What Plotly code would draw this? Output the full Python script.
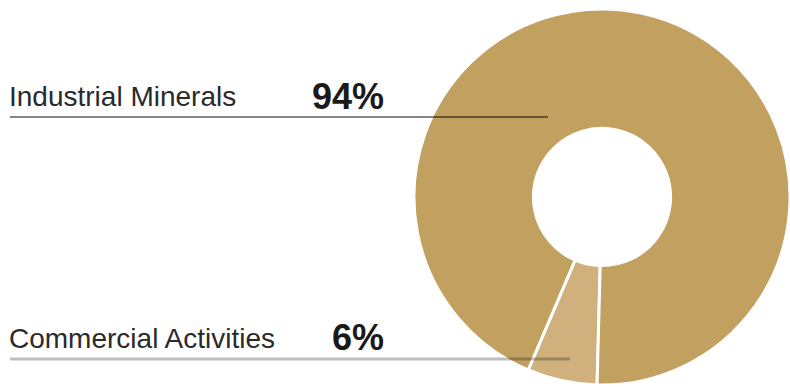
import plotly.graph_objects as go

W, H = 790, 387

# Segment data
segments = ["Commercial Activities", "Industrial Minerals"]
shares = [6, 94]
segment_colors = ["#D0B07C", "#C1A060"]

# Label texts
label_names = ["Industrial Minerals", "Commercial Activities"]
label_values = ["94%", "6%"]

FONT = "Liberation Sans"


def px_x(x):
    return min(max(x / W, 0.0), 1.0)


def px_y(y):
    return min(max((H - y) / H, 0.0), 1.0)


fig = go.Figure()

# Donut: centre (602, 197), outer radius 188 px
cx, cy, r = 602, 197, 188
fig.add_trace(go.Pie(
    labels=segments,
    values=shares,
    sort=False,
    direction="clockwise",
    rotation=181.5,
    hole=0.365,
    marker=dict(colors=segment_colors, line=dict(color="white", width=3)),
    textinfo="none",
    hoverinfo="label+percent",
    showlegend=False,
    domain=dict(x=[px_x(cx - r), px_x(cx + r)], y=[px_y(cy + r), px_y(cy - r)]),
))

rows = [
    # name, value, y-centre of name, y-centre of value, rule y, rule end x, rule colour, rule width
    (label_names[0], label_values[0], 97.0, 96.5, 117, 548, "rgba(0,0,0,0.47)", 2),
    (label_names[1], label_values[1], 338.0, 337.0, 359, 570, "rgba(0,0,0,0.25)", 3),
]

annotations = []
shapes = []
for name, val, yn, yv, ry, rx, rc, rw in rows:
    annotations.append(dict(
        text=name, x=px_x(7), y=px_y(yn), xref="paper", yref="paper",
        xanchor="left", yanchor="middle", showarrow=False,
        font=dict(family=FONT, size=28, color="#2a2a2a"),
    ))
    annotations.append(dict(
        text="<b>" + val + "</b>", x=px_x(386), y=px_y(yv), xref="paper", yref="paper",
        xanchor="right", yanchor="middle", showarrow=False,
        font=dict(family=FONT, size=36, color="#1a1a1a"),
    ))
    shapes.append(dict(
        type="line", xref="paper", yref="paper",
        x0=px_x(10), x1=px_x(rx), y0=px_y(ry), y1=px_y(ry),
        line=dict(color=rc, width=rw), layer="above",
    ))

fig.update_layout(
    width=W, height=H,
    margin=dict(l=0, r=0, t=0, b=0),
    paper_bgcolor="white", plot_bgcolor="white",
    font=dict(family=FONT),
    annotations=annotations,
    shapes=shapes,
)

fig.write_html("out.html")
